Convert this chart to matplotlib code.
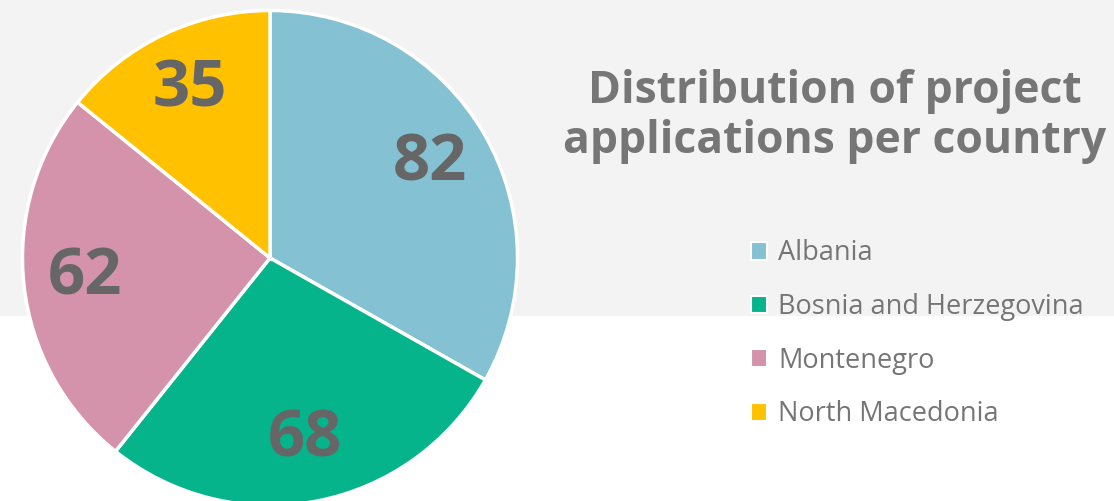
import matplotlib.pyplot as plt
from matplotlib.patches import Rectangle, Patch

countries = ['Albania', 'Bosnia and Herzegovina', 'Montenegro', 'North Macedonia']
applications = [82, 68, 62, 35]
colors = ['#84c1d3', '#05b48a', '#d592ab', '#ffc100']

fig = plt.figure(figsize=(11.14, 5.01), dpi=100)
fig.patch.set_facecolor('white')

# grey band at the top, behind everything
bg = fig.add_axes([0, 0, 1, 1], zorder=-1)
bg.axis('off')
bg.add_patch(Rectangle((0, 0.369), 1, 0.631, facecolor='#f3f3f3', edgecolor='none'))
bg.set_xlim(0, 1)
bg.set_ylim(0, 1)

ax = fig.add_axes([20 / 1114, -7 / 501, 500 / 1114, 500 / 501])
ax.set_facecolor('none')

wedges, texts, autotexts = ax.pie(
    applications, colors=colors, startangle=90, counterclock=False,
    autopct=lambda p: '{:.0f}'.format(p * sum(applications) / 100),
    pctdistance=0.75,
    wedgeprops=dict(edgecolor='white', linewidth=2.5),
    textprops=dict(color='#666666', fontsize=47, fontweight='bold', family='Open Sans'))
ax.set_xlim(-1.01, 1.01)
ax.set_ylim(-1.01, 1.01)
ax.set_aspect('equal')

fig.text(0.749, 0.768, 'Distribution of project\napplications per country',
         ha='center', va='center', fontsize=32, fontweight='bold',
         color='#767676', family='Open Sans', linespacing=1.15)

handles = [Patch(facecolor=c, edgecolor='white', linewidth=1.5) for c in colors]
fig.legend(handles, countries, loc='upper left', bbox_to_anchor=(0.652, 0.571),
           frameon=False, labelcolor='#757575',
           handlelength=0.62, handleheight=0.62, handletextpad=0.4,
           labelspacing=0.95, prop=dict(family='Open Sans', size=19.5))

fig.savefig('out.png', dpi=100, facecolor=fig.get_facecolor())
